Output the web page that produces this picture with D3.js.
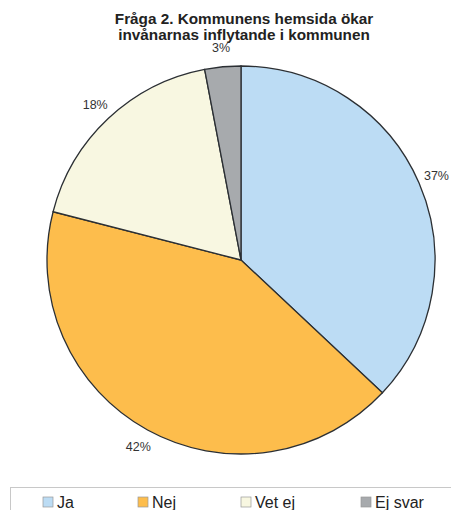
<!DOCTYPE html>
<html>
<head>
<meta charset="utf-8">
<script src="https://cdn.jsdelivr.net/npm/d3@7"></script>
<style>
body { margin: 0; background: #fff; }
</style>
</head>
<body>
<div id="vis"></div>
<script>
var categories = ["Ja", "Nej", "Vet ej", "Ej svar"];
var values = [37, 42, 18, 3];
var colors = ["#bcdcf4", "#fdbd4c", "#f8f7e1", "#a7aaad"];
var titleLines = ["Fråga 2. Kommunens hemsida ökar", "invånarnas inflytande i kommunen"];

var width = 451, height = 510;
var cx = 241, cy = 260, radius = 194;

var svg = d3.select("#vis")
    .append("svg")
    .attr("width", width)
    .attr("height", height);

// title
svg.selectAll("text.title")
    .data(titleLines)
    .join("text")
    .attr("class", "title")
    .attr("x", 244)
    .attr("y", (d, i) => 23.5 + i * 16)
    .attr("text-anchor", "middle")
    .style("font", "bold 15.3px 'Liberation Sans', Arial, sans-serif")
    .attr("fill", "#222")
    .text(d => d);

var pie = d3.pie().sort(null).value(d => d)
var arcs = pie(values)

var arc = d3.arc().innerRadius(0).outerRadius(radius)
var labelArc = d3.arc().innerRadius(213).outerRadius(213)

var g = svg.append("g")
    .attr("transform", "translate(" + cx + "," + cy + ")")

g.selectAll("path")
    .data(arcs)
    .join("path")
    .attr("d", arc)
    .attr("fill", (d, i) => colors[i])
    .attr("stroke", "#2b2f33")
    .attr("stroke-width", 1.3)

g.selectAll("text")
    .data(arcs)
    .join("text")
    .attr("transform", d => `translate(${labelArc.centroid(d)})`)
    .attr("dy", "0.35em")
    .attr("text-anchor", "middle")
    .attr("fill", "#333")
    .style("font", "12.5px 'Liberation Sans', Arial, sans-serif")
    .text(d => d.value + "%")

// legend
svg.append("rect")
    .attr("x", 10.5)
    .attr("y", 487.5)
    .attr("width", 460)
    .attr("height", 40)
    .attr("fill", "none")
    .attr("stroke", "#c8c8c8")

var legendX = [43, 138, 241, 361]
var lg = svg.selectAll("g.legend")
    .data(categories)
    .join("g")
    .attr("class", "legend")
    .attr("transform", (d, i) => "translate(" + legendX[i] + ",497)")

lg.append("rect")
    .attr("width", 10)
    .attr("height", 10)
    .attr("fill", (d, i) => colors[i])
    .attr("stroke", "#999")
    .attr("stroke-width", 0.7)

lg.append("text")
    .attr("x", 14)
    .attr("y", 10.5)
    .attr("fill", "#222")
    .style("font", "16px 'Liberation Sans', Arial, sans-serif")
    .text(d => d)
</script>
</body>
</html>
